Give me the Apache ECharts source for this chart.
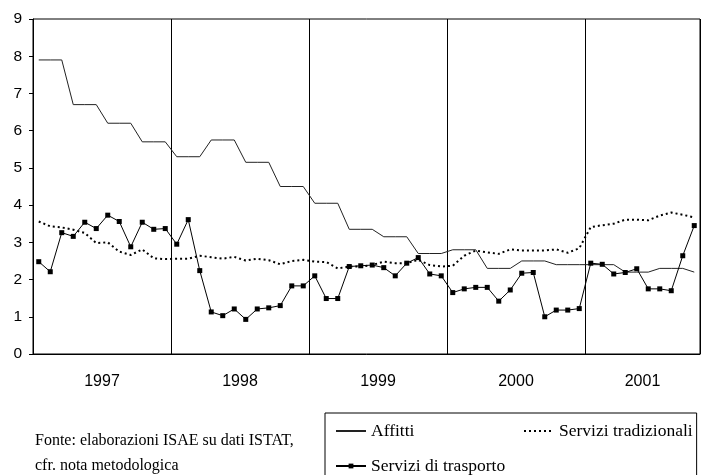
<!DOCTYPE html>
<html style="height: 100%">
<head>
<meta charset="utf-8">
<title>Affitti e servizi</title>
<script type="text/javascript" src="https://cdn.jsdelivr.net/npm/echarts@6/dist/echarts.min.js"></script>
</head>
<body style="height: 100%; margin: 0; background: #fff">
<div id="target" style="width: 701px; height: 475px"></div>
<script>
// monthly categories, Jan 1997 - Oct 2001
const years = ['1997', '1998', '1999', '2000', '2001'];
const months = [];
for (const y of years) {
    for (let m = 1; m <= 12; m++) {
        if (y === '2001' && m > 10) break;
        months.push(y + '-' + String(m).padStart(2, '0'));
    }
}
// category index that carries each year label
const yearLabelIndex = [6, 18, 30, 42, 53];

const affitti = [
    7.9, 7.9, 7.9, 6.7, 6.7, 6.7, 6.2, 6.2, 6.2, 5.7, 5.7, 5.7,
    5.3, 5.3, 5.3, 5.75, 5.75, 5.75, 5.15, 5.15, 5.15, 4.5, 4.5, 4.5,
    4.05, 4.05, 4.05, 3.35, 3.35, 3.35, 3.15, 3.15, 3.15, 2.7, 2.7, 2.7,
    2.8, 2.8, 2.8, 2.3, 2.3, 2.3, 2.5, 2.5, 2.5, 2.4, 2.4, 2.4,
    2.4, 2.4, 2.4, 2.2, 2.2, 2.2, 2.3, 2.3, 2.3, 2.2
];
const tradizionali = [
    3.56, 3.43, 3.40, 3.34, 3.25, 2.98, 3.00, 2.75, 2.66, 2.81, 2.57, 2.55,
    2.56, 2.56, 2.64, 2.60, 2.56, 2.61, 2.51, 2.56, 2.52, 2.41, 2.50, 2.53,
    2.48, 2.47, 2.30, 2.35, 2.35, 2.39, 2.48, 2.44, 2.44, 2.53, 2.39, 2.35,
    2.37, 2.64, 2.78, 2.73, 2.69, 2.81, 2.78, 2.78, 2.78, 2.81, 2.72, 2.84,
    3.41, 3.46, 3.50, 3.61, 3.61, 3.59, 3.72, 3.80, 3.74, 3.67
];
const trasporto = [
    2.48, 2.21, 3.26, 3.16, 3.54, 3.37, 3.73, 3.56, 2.88, 3.54, 3.35, 3.37,
    2.95, 3.61, 2.24, 1.13, 1.03, 1.21, 0.93, 1.21, 1.24, 1.30, 1.83, 1.83,
    2.10, 1.49, 1.49, 2.35, 2.37, 2.39, 2.32, 2.10, 2.44, 2.59, 2.15, 2.10,
    1.65, 1.75, 1.79, 1.79, 1.42, 1.72, 2.17, 2.19, 1.00, 1.18, 1.18, 1.22,
    2.44, 2.41, 2.15, 2.19, 2.29, 1.75, 1.75, 1.70, 2.64, 3.45
];

const sans = '"Liberation Sans", Arial, sans-serif';
const serif = '"Liberation Serif", "Times New Roman", serif';

let chart = echarts.init(document.getElementById('target'));

// lines without markers: hide the legend's symbol, keep its line
const noMarker = { opacity: 0, color: 'transparent', borderColor: 'transparent' };

let option = {
    animation: false,
    backgroundColor: '#fff',
    title: {
        text: 'Fonte: elaborazioni ISAE su dati ISTAT,\ncfr. nota metodologica',
        left: 35,
        top: 428,
        padding: 0,
        textStyle: {
            fontFamily: serif,
            fontSize: 16,
            fontWeight: 'normal',
            lineHeight: 25,
            color: '#000',
        },
    },
    legend: {
        left: 325,
        top: 413,
        width: 368,
        padding: [6, 4, 12, 10],
        itemGap: 11,
        itemWidth: 30,
        itemHeight: 6,
        borderColor: '#000',
        borderWidth: 1,
        borderRadius: 0,
        data: [
            { name: 'Affitti', itemStyle: noMarker },
            { name: 'Servizi tradizionali', itemStyle: noMarker },
            { name: 'Servizi di trasporto' },
        ],
        formatter: name => name === 'Affitti' ? '{w|Affitti}' : name,
        textStyle: {
            fontFamily: serif,
            fontSize: 17.5,
            lineHeight: 24,
            color: '#000',
            rich: {
                w: {
                    width: 141,
                    fontFamily: serif,
                    fontSize: 17.5,
                    lineHeight: 24,
                    color: '#000',
                },
            },
        },
    },
    grid: {
        left: 33,
        right: 1,
        top: 19,
        bottom: 121,
        show: true,
        borderColor: '#000',
        borderWidth: 1,
    },
    xAxis: [
        {
            type: 'category',
            data: months,
            boundaryGap: true,
            axisLine: { lineStyle: { color: '#000', width: 1 } },
            axisTick: {
                interval: 0,
                length: 3,
                lineStyle: { color: '#000' },
            },
            splitLine: {
                show: true,
                interval: index => index % 12 === 0,
                lineStyle: { color: '#000', width: 1 },
            },
            axisLabel: {
                interval: index => yearLabelIndex.includes(index),
                formatter: value => value.slice(0, 4),
                margin: 20,
                padding: [0, 11.5, 0, 0],
                fontFamily: sans,
                fontSize: 16,
                color: '#000',
            },
        },
        {
            type: 'category',
            data: months,
            boundaryGap: true,
            position: 'bottom',
            axisLine: { show: false },
            axisTick: {
                inside: true,
                interval: 0,
                length: 3,
                lineStyle: { color: '#000' },
            },
            axisLabel: { show: false },
            splitLine: { show: false },
        },
    ],
    yAxis: {
        type: 'value',
        min: 0,
        max: 9,
        interval: 1,
        axisLine: { show: true, lineStyle: { color: '#000', width: 1 } },
        axisTick: { show: true, length: 4, lineStyle: { color: '#000' } },
        splitLine: { show: false },
        axisLabel: {
            margin: 11,
            fontFamily: sans,
            fontSize: 15.5,
            color: '#000',
        },
    },
    series: [
        {
            name: 'Affitti',
            type: 'line',
            data: affitti,
            symbol: 'none',
            lineStyle: { color: '#222', width: 1 },
            itemStyle: { color: '#222' },
        },
        {
            name: 'Servizi tradizionali',
            type: 'line',
            data: tradizionali,
            symbol: 'none',
            lineStyle: { color: '#000', width: 2, type: [2, 3] },
            itemStyle: { color: '#000' },
        },
        {
            name: 'Servizi di trasporto',
            type: 'line',
            data: trasporto,
            symbol: 'rect',
            symbolSize: 5,
            lineStyle: { color: '#000', width: 1 },
            itemStyle: { color: '#000' },
        },
    ],
};

chart.setOption(option);
</script>
</body>
</html>
